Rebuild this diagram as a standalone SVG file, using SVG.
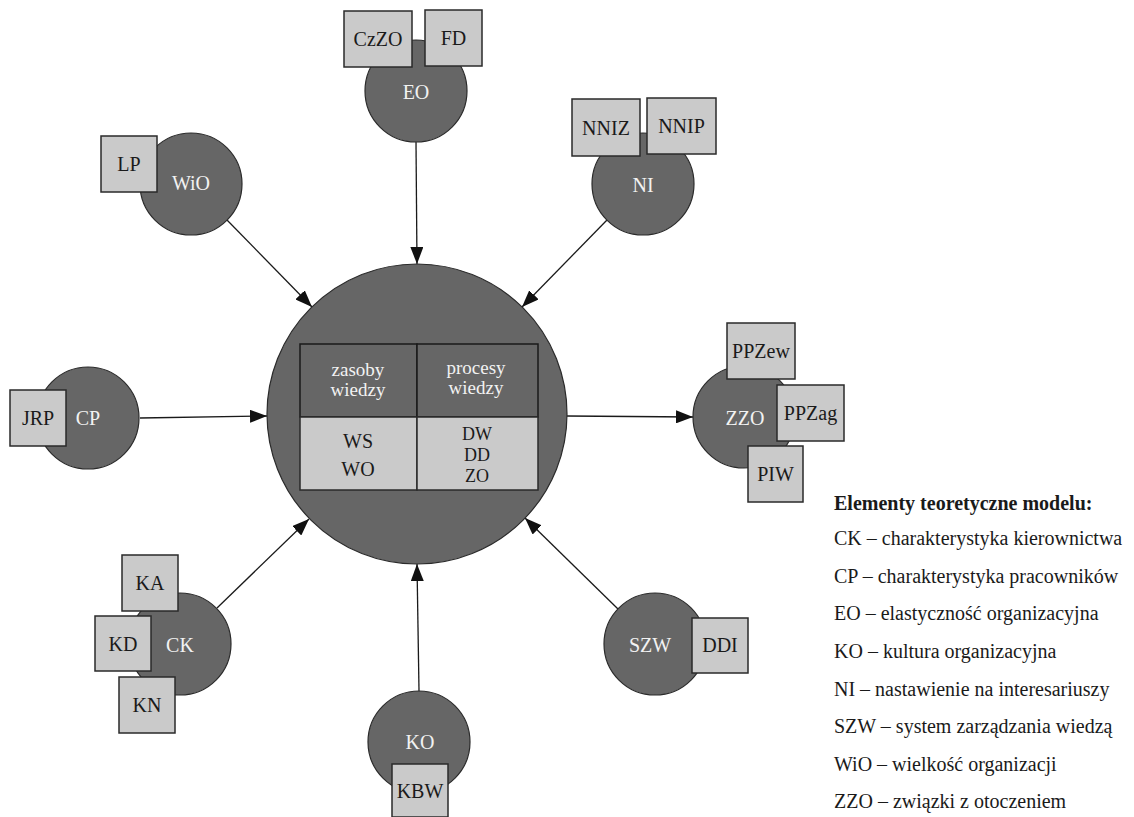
<svg xmlns="http://www.w3.org/2000/svg" width="1134" height="817" viewBox="0 0 1134 817">
<defs>
<style>
.c{fill:#666666;stroke:#2a2a2a;stroke-width:1.2}
.b{fill:#cacaca;stroke:#2a2a2a;stroke-width:1.5}
.d{fill:#666666;stroke:#1a1a1a;stroke-width:1.5}
.t{font-family:"Liberation Serif","Times New Roman",serif;font-size:20px;text-anchor:middle;fill:#1a1a1a}
.w{font-family:"Liberation Serif","Times New Roman",serif;font-size:20px;text-anchor:middle;fill:#f2f2f2}
.s{font-size:19px}
.m{font-size:18px}
.l{font-family:"Liberation Serif","Times New Roman",serif;font-size:20px;fill:#1a1a1a}
.h{font-weight:bold}
.a{stroke:#1a1a1a;stroke-width:1.3;fill:none;marker-end:url(#arr)}
</style>
<marker id="arr" markerUnits="userSpaceOnUse" markerWidth="17" markerHeight="13" refX="17" refY="6.5" orient="auto">
<path d="M0,0 L17,6.5 L0,13 z" fill="#111"/>
</marker>
</defs>
<rect width="1134" height="817" fill="#ffffff"/>

<g id="connectors">
<line class="a" x1="416" y1="142" x2="417" y2="264"/>
<line class="a" x1="607" y1="220" x2="522" y2="307"/>
<line class="a" x1="227" y1="220" x2="312" y2="307"/>
<line class="a" x1="140" y1="418" x2="267" y2="416"/>
<line class="a" x1="567" y1="416" x2="693" y2="417"/>
<line class="a" x1="217" y1="608" x2="309" y2="519"/>
<line class="a" x1="419" y1="691" x2="417" y2="564"/>
<line class="a" x1="618" y1="609" x2="525" y2="518"/>
</g>

<g id="center">
<circle class="c" cx="417" cy="414" r="150"/>
<rect class="d" x="300" y="344" width="117" height="73"/>
<rect class="d" x="417" y="344" width="121" height="73"/>
<rect class="b" x="300" y="417" width="117" height="73"/>
<rect class="b" x="417" y="417" width="121" height="73"/>
<text class="w s" x="358" y="376">zasoby</text>
<text class="w s" x="358" y="396">wiedzy</text>
<text class="w s" x="476" y="374">procesy</text>
<text class="w s" x="476" y="394">wiedzy</text>
<text class="t" x="358" y="448">WS</text>
<text class="t" x="358" y="476">WO</text>
<text class="t m" x="477" y="440">DW</text>
<text class="t m" x="477" y="461">DD</text>
<text class="t m" x="477" y="482">ZO</text>
</g>

<g id="EO">
<circle class="c" cx="416" cy="91" r="51"/>
<text class="w" x="416" y="99">EO</text>
<rect class="b" x="344" y="11" width="68" height="56"/>
<text class="t" x="378" y="46">CzZO</text>
<rect class="b" x="425" y="10" width="57" height="56"/>
<text class="t" x="453.5" y="45">FD</text>
</g>

<g id="NI">
<circle class="c" cx="643" cy="184" r="51"/>
<text class="w" x="643" y="192">NI</text>
<rect class="b" x="572" y="99" width="68" height="57"/>
<text class="t" x="606" y="134.5">NNIZ</text>
<rect class="b" x="647" y="98" width="69" height="56"/>
<text class="t" x="681.5" y="133">NNIP</text>
</g>

<g id="WiO">
<circle class="c" cx="191" cy="184" r="51"/>
<text class="w" x="191" y="190">WiO</text>
<rect class="b" x="101" y="136" width="56" height="56"/>
<text class="t" x="129" y="171">LP</text>
</g>

<g id="CP">
<circle class="c" cx="88" cy="418" r="51"/>
<text class="w" x="88" y="425">CP</text>
<rect class="b" x="10" y="390" width="56" height="56"/>
<text class="t" x="38" y="425">JRP</text>
</g>

<g id="ZZO">
<circle class="c" cx="744" cy="417" r="51"/>
<text class="w" x="745" y="425">ZZO</text>
<rect class="b" x="727" y="323" width="68" height="56"/>
<text class="t" x="761" y="358">PPZew</text>
<rect class="b" x="777" y="385" width="67" height="56"/>
<text class="t" x="810.5" y="420">PPZag</text>
<rect class="b" x="748" y="446" width="55" height="56"/>
<text class="t" x="775.5" y="481">PIW</text>
</g>

<g id="CK">
<circle class="c" cx="180" cy="644" r="51"/>
<text class="w" x="180" y="652">CK</text>
<rect class="b" x="122" y="555" width="56" height="56"/>
<text class="t" x="150" y="590">KA</text>
<rect class="b" x="95" y="616" width="56" height="55"/>
<text class="t" x="123" y="651">KD</text>
<rect class="b" x="119" y="677" width="56" height="56"/>
<text class="t" x="147" y="712">KN</text>
</g>

<g id="KO">
<circle class="c" cx="419" cy="742" r="51"/>
<text class="w" x="420" y="749">KO</text>
<rect class="b" x="392" y="764" width="56" height="53"/>
<text class="t" x="420" y="798">KBW</text>
</g>

<g id="SZW">
<circle class="c" cx="655" cy="644" r="51"/>
<text class="w" x="650" y="652">SZW</text>
<rect class="b" x="692" y="618" width="56" height="55"/>
<text class="t" x="720" y="652">DDI</text>
</g>

<g id="legend">
<text class="l h" x="834" y="510">Elementy teoretyczne modelu:</text>
<text class="l" x="834" y="545">CK – charakterystyka kierownictwa</text>
<text class="l" x="834" y="583">CP – charakterystyka pracowników</text>
<text class="l" x="834" y="620">EO – elastyczność organizacyjna</text>
<text class="l" x="834" y="658">KO – kultura organizacyjna</text>
<text class="l" x="834" y="696">NI – nastawienie na interesariuszy</text>
<text class="l" x="834" y="733">SZW – system zarządzania wiedzą</text>
<text class="l" x="834" y="771">WiO – wielkość organizacji</text>
<text class="l" x="834" y="808">ZZO – związki z otoczeniem</text>
</g>
</svg>
